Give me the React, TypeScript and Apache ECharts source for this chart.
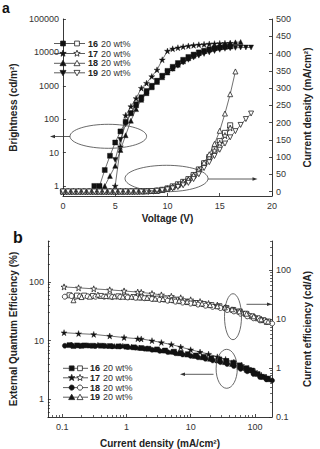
import React, { useEffect, useRef } from 'react';
import * as echarts from 'echarts';

const lg = (v: number) => Math.log10(v);

// ---------- panel a: brightness (cd/m²) vs voltage (V), filled markers ----------
const voltB16 = [3, 3.5, 4, 4.5, 5, 5.5, 6, 6.5, 7, 7.5, 8, 8.5, 9, 9.5, 10, 10.5, 11, 11.5, 12, 12.5, 13, 13.5, 14, 14.5, 15, 15.5, 16];
const bright16 = [1, 1, 3, 8, 20, 43, 83, 150, 260, 420, 650, 950, 1400, 2000, 2800, 3700, 4800, 6000, 7300, 8600, 10000, 11200, 12300, 13300, 14000, 14600, 15000];
const voltB17 = [5, 5.5, 6, 6.5, 7, 7.5, 8, 8.5, 9, 9.5, 10, 10.5, 11, 11.5, 12, 12.5, 13, 13.5, 14, 14.5, 15, 15.5, 16];
const bright17 = [1, 15, 130, 240, 420, 850, 1200, 1900, 3000, 6000, 11000, 12800, 13800, 14800, 15600, 16300, 16900, 17400, 17900, 18300, 18600, 18800, 19000];
const voltB18 = [4, 4.5, 5, 5.5, 6, 6.5, 7, 7.5, 8, 8.5, 9, 9.5, 10, 10.5, 11, 11.5, 12, 12.5, 13, 13.5, 14, 14.5, 15, 15.5, 16, 16.5, 17];
const bright18 = [1, 2, 4, 12, 33, 90, 200, 380, 600, 900, 1300, 1800, 2500, 3300, 4300, 5400, 6700, 8000, 9500, 11000, 12500, 14000, 15500, 17000, 18500, 20000, 20500];
const voltB19 = [5, 5.5, 6, 6.5, 7, 7.5, 8, 8.5, 9, 9.5, 10, 10.5, 11, 11.5, 12, 12.5, 13, 13.5, 14, 14.5, 15, 15.5, 16, 16.5, 17, 17.5, 18];
const bright19 = [6, 24, 70, 150, 280, 450, 700, 1000, 1400, 1900, 2500, 3200, 4000, 5000, 6000, 7000, 8000, 9000, 10000, 11000, 12000, 12800, 13300, 13700, 14000, 14000, 14000];

// ---------- panel a: current density (mA/cm²) vs voltage (V), open markers ----------
const voltJ16 = [0, 0.5, 1, 1.5, 2, 2.5, 3, 3.5, 4, 4.5, 5, 5.5, 6, 6.5, 7, 7.5, 8, 8.5, 9, 9.5, 10, 10.5, 11, 11.5, 12, 12.5, 13, 13.5, 14, 14.5, 15, 15.5, 16];
const cur16 = [0, 0, 0, 0, 0, 0, 0, 0, 0, 0, 0, 0.1, 0.1, 0.2, 0.3, 0.5, 0.9, 1.5, 2.5, 5, 9, 15, 21, 28, 36, 48, 64, 82, 100, 122, 146, 170, 192];
const voltJ17 = [0, 0.5, 1, 1.5, 2, 2.5, 3, 3.5, 4, 4.5, 5, 5.5, 6, 6.5, 7, 7.5, 8, 8.5, 9, 9.5, 10, 10.5, 11, 11.5, 12, 12.5, 13, 13.5, 14, 14.5, 15, 15.5, 16];
const cur17 = [0, 0, 0, 0, 0, 0, 0, 0, 0, 0, 0, 0.1, 0.1, 0.2, 0.3, 0.5, 0.8, 1.4, 2.4, 4.5, 8, 13, 19, 26, 34, 46, 62, 80, 98, 118, 140, 162, 184];
const voltJ18 = [0, 0.5, 1, 1.5, 2, 2.5, 3, 3.5, 4, 4.5, 5, 5.5, 6, 6.5, 7, 7.5, 8, 8.5, 9, 9.5, 10, 10.5, 11, 11.5, 12, 12.5, 13, 13.5, 14, 14.5, 15, 15.5, 16, 16.5];
const cur18 = [0, 0, 0, 0, 0, 0, 0, 0, 0, 0, 0, 0.1, 0.1, 0.2, 0.3, 0.5, 0.9, 1.5, 2.6, 5, 9, 14, 20, 27, 35, 47, 64, 84, 108, 138, 176, 226, 282, 348];
const voltJ19 = [0, 0.5, 1, 1.5, 2, 2.5, 3, 3.5, 4, 4.5, 5, 5.5, 6, 6.5, 7, 7.5, 8, 8.5, 9, 9.5, 10, 10.5, 11, 11.5, 12, 12.5, 13, 13.5, 14, 14.5, 15, 15.5, 16, 16.5, 17, 17.5, 18];
const cur19 = [0, 0, 0, 0, 0, 0, 0, 0, 0, 0, 0, 0.1, 0.1, 0.2, 0.3, 0.4, 0.7, 1.2, 2, 3.5, 6, 9, 13, 18, 25, 36, 50, 68, 85, 103, 121, 139, 157, 175, 193, 210, 226];

// ---------- panel b: EQE (%) and current efficiency (cd/A) vs current density ----------
const jEff16 = [0.13, 0.17, 0.22, 0.3, 0.4, 0.55, 0.75, 1.0, 1.3, 1.7, 2.2, 3, 4, 5.5, 7, 9, 12, 16, 21, 28, 36, 46, 58, 72, 90, 110, 135, 160];
const eqe16 = [8.4, 8.3, 8.3, 8.2, 8.2, 8.1, 8.0, 7.9, 7.7, 7.5, 7.3, 7.1, 6.8, 6.5, 6.2, 5.9, 5.6, 5.3, 5.0, 4.8, 4.5, 4.2, 3.8, 3.4, 3.1, 2.7, 2.4, 2.25];
const ce16 = [31, 30.5, 30.5, 30, 30, 29.5, 29.5, 29, 28.5, 28, 27.5, 26.5, 25.5, 24.5, 23.5, 22.5, 21.5, 20.5, 19.5, 18.5, 17, 15.5, 14.5, 13, 11.5, 10.5, 9.6, 9];
const jEff17 = [0.107, 0.18, 0.31, 0.55, 0.92, 1.5, 1.7, 2.5, 3.5, 5, 7, 10, 14, 19, 26, 35, 47, 62, 80, 100, 125, 150];
const eqe17 = [13.7, 13.2, 12.8, 12.0, 11.3, 10.8, 10.7, 10.0, 9.3, 8.6, 7.8, 7.0, 6.4, 5.9, 5.3, 4.8, 4.3, 3.8, 3.4, 3.0, 2.6, 2.4];
const ce17 = [46, 44, 42, 40, 38, 36, 35.5, 33.5, 31.5, 29.5, 27.5, 25, 23, 21, 19.5, 17.5, 15.5, 14, 12.5, 11, 10, 9];
const jEff18 = [0.11, 0.14, 0.19, 0.25, 0.33, 0.45, 0.6, 0.8, 1.05, 1.4, 1.9, 2.5, 3.3, 4.4, 5.8, 7.5, 10, 13, 17, 22, 29, 37, 47, 60, 76, 95, 120, 150, 185];
const eqe18 = [8.2, 8.4, 8.2, 8.3, 8.1, 8.2, 8.0, 8.0, 7.8, 7.6, 7.3, 7.0, 6.7, 6.4, 6.1, 5.8, 5.5, 5.2, 4.9, 4.6, 4.3, 4.0, 3.7, 3.3, 3.0, 2.7, 2.4, 2.2, 2.1];
const ce18 = [29, 30, 29.5, 29.5, 29, 29, 28.5, 28.5, 28, 27.5, 27, 26, 25, 24, 23, 22, 21, 20, 19, 18, 17, 15.5, 14.5, 13, 11.5, 10.5, 9.5, 8.8, 8.2];
const jEff19 = [0.15, 0.2, 0.27, 0.36, 0.48, 0.65, 0.88, 1.2, 1.6, 2.1, 2.8, 3.7, 5, 6.6, 8.8, 11.5, 15, 20, 26, 34, 44, 57, 74, 96, 125, 160];
const eqe19 = [8.1, 8.2, 8.3, 8.5, 8.2, 8.1, 8.2, 7.9, 7.6, 7.4, 7.1, 6.8, 6.5, 6.1, 5.8, 5.5, 5.2, 4.9, 4.6, 4.3, 4.0, 3.6, 3.2, 2.9, 2.5, 2.2];
const ce19 = [24.5, 28.5, 29, 32, 30, 29.5, 29, 29, 28, 27.5, 26.5, 26, 25, 24, 23, 22, 21, 19.5, 18.5, 17.5, 16, 14.5, 13, 11.5, 10, 9];

// ---------- axis ticks ----------
const voltTicks = [0, 5, 10, 15, 20];
const brightTicks = [1, 10, 100, 1000, 10000, 100000];
const curTicks = [0, 50, 100, 150, 200, 250, 300, 350, 400, 450, 500];
const jTicks = [0.1, 1, 10, 100];
const eqeTicks = [1, 10, 100];
const ceTicks = [0.1, 1, 10, 100];

const deviceNames = ['16', '17', '18', '19'];
const dopingText = '20 wt%';

const FONT = "'Liberation Sans', Arial, Helvetica, sans-serif";
const INK = '#222';
const STAR = 'path://M50,0 L61.8,35.3 L99,35.3 L69,57.3 L80.3,92.7 L50,70.7 L19.7,92.7 L31,57.3 L1,35.3 L38.2,35.3 Z';

const pairs = (xs: number[], ys: number[], fx = (v: number) => v, fy = (v: number) => v) =>
  xs.map((x, i) => [fx(x), fy(ys[i])]);

function minorLogTicks(lo: number, hi: number) {
  const out: number[] = [];
  for (let d = -3; d <= 6; d++) {
    for (let k = 2; k <= 9; k++) {
      const v = k * Math.pow(10, d);
      if (v > lo && v < hi) out.push(lg(v));
    }
  }
  return out;
}

function labelFrom(ticks: number[]) {
  return (v: number) => {
    const t = ticks.find((x) => Math.abs(lg(x) - v) < 1e-6);
    return t != null ? String(t) : '';
  };
}

function series(data: number[][], xi: number, yi: number, symbol: string, filled: boolean, rotate = 0, size = 5) {
  return {
    type: 'line',
    xAxisIndex: xi,
    yAxisIndex: yi,
    data,
    symbol,
    symbolSize: size,
    symbolRotate: rotate,
    showSymbol: true,
    showAllSymbol: true,
    silent: true,
    lineStyle: { color: '#333', width: 0.7 },
    itemStyle: filled
      ? { color: '#111', borderColor: '#111', borderWidth: 0.4 }
      : { color: '#fff', borderColor: '#222', borderWidth: 0.8 },
    z: filled ? 3 : 4,
  };
}

const tickStyle = { inside: true, length: 3, lineStyle: { color: INK, width: 0.8 } };
const minorTickStyle = { inside: true, length: 2, lineStyle: { color: INK, width: 0.7 } };
const lineStyle = { show: true, onZero: false, lineStyle: { color: INK, width: 0.9 } };
const labelStyle = { color: '#333', fontSize: 9, fontFamily: FONT };
const nameStyle = { color: INK, fontSize: 10, fontWeight: 'bold', fontFamily: FONT };

// Legend glyph: marker shapes drawn as graphic elements
function glyph(kind: string, cx: number, cy: number, filled: boolean) {
  const style = { fill: filled ? '#111' : '#fff', stroke: INK, lineWidth: 0.8 };
  if (kind === 'rect') return { type: 'rect', shape: { x: cx - 2.4, y: cy - 2.4, width: 4.8, height: 4.8 }, style, z: 10 };
  if (kind === 'circle') return { type: 'circle', shape: { cx, cy, r: 2.6 }, style, z: 10 };
  if (kind === 'up') return { type: 'polygon', shape: { points: [[cx, cy - 3], [cx + 3, cy + 2.4], [cx - 3, cy + 2.4]] }, style, z: 10 };
  if (kind === 'down') return { type: 'polygon', shape: { points: [[cx, cy + 3], [cx + 3, cy - 2.4], [cx - 3, cy - 2.4]] }, style, z: 10 };
  const pts: number[][] = [];
  for (let i = 0; i < 10; i++) {
    const r = i % 2 === 0 ? 3.4 : 1.4;
    const a = -Math.PI / 2 + (i * Math.PI) / 5;
    pts.push([cx + r * Math.cos(a), cy + r * Math.sin(a)]);
  }
  return { type: 'polygon', shape: { points: pts }, style, z: 10 };
}

function legendRows(x0: number, x1: number, mFill: number, mOpen: number, textX: number, ys: number[], kinds: string[]) {
  const els: any[] = [];
  ys.forEach((y, i) => {
    els.push({ type: 'line', shape: { x1: x0, y1: y, x2: x1, y2: y }, style: { stroke: '#333', lineWidth: 0.8 }, z: 9 });
    els.push(glyph(kinds[i], mFill, y, true));
    els.push(glyph(kinds[i], mOpen, y, false));
    els.push({ type: 'text', x: textX, y, style: { text: deviceNames[i], fill: INK, font: `bold 9px ${FONT}`, verticalAlign: 'middle' }, z: 10 });
    els.push({ type: 'text', x: textX + 13, y, style: { text: dopingText, fill: '#333', font: `9px ${FONT}`, verticalAlign: 'middle' }, z: 10 });
  });
  return els;
}

function arrow(x1: number, x2: number, y: number) {
  const dir = x2 > x1 ? 1 : -1;
  return [
    { type: 'line', shape: { x1, y1: y, x2: x2 - dir * 3, y2: y }, style: { stroke: '#333', lineWidth: 0.8 }, z: 9 },
    { type: 'polygon', shape: { points: [[x2, y], [x2 - dir * 5, y - 1.8], [x2 - dir * 5, y + 1.8]] }, style: { fill: '#333' }, z: 9 },
  ];
}

function ring(cx: number, cy: number, rx: number, ry: number) {
  return { type: 'ellipse', shape: { cx, cy, rx, ry }, style: { fill: 'none', stroke: '#444', lineWidth: 0.8 }, z: 9 };
}

export default function App() {
  const ref = useRef<HTMLDivElement>(null);

  useEffect(() => {
    if (!ref.current) return;
    const chart = echarts.init(ref.current, undefined, { renderer: 'svg' });

    const jMin = 0.06, jMax = 185;
    const eMin = 0.5, eMax = 500;
    const cMin = 0.1, cMax = 400;

    const option: any = {
      animation: false,
      backgroundColor: '#fff',
      textStyle: { fontFamily: FONT },
      grid: [
        { left: 43, top: 19, width: 239, height: 177 },
        { left: 43, top: 241, width: 236, height: 177 },
      ],
      xAxis: [
        {
          gridIndex: 0, type: 'value', min: 0, max: 20, interval: 5,
          axisLine: lineStyle, axisTick: tickStyle, splitLine: { show: false },
          axisLabel: { ...labelStyle, margin: 5, customValues: voltTicks },
          name: 'Voltage (V)', nameLocation: 'middle', nameGap: 17, nameTextStyle: nameStyle,
        },
        {
          gridIndex: 1, type: 'value', min: lg(jMin), max: lg(jMax),
          axisLine: lineStyle, splitLine: { show: false },
          axisTick: { ...tickStyle, customValues: jTicks.map(lg) },
          axisLabel: { ...labelStyle, margin: 5, customValues: jTicks.map(lg), formatter: labelFrom(jTicks) },
          name: 'Current density (mA/cm²)', nameLocation: 'middle', nameGap: 21, nameTextStyle: nameStyle,
        },
        {
          gridIndex: 1, type: 'value', min: lg(jMin), max: lg(jMax), position: 'bottom',
          axisLine: { show: false, onZero: false }, splitLine: { show: false },
          axisTick: { ...minorTickStyle, customValues: minorLogTicks(jMin, jMax) },
          axisLabel: { show: false },
        },
      ],
      yAxis: [
        {
          gridIndex: 0, type: 'value', position: 'left', min: lg(0.5), max: lg(100000),
          axisLine: lineStyle, splitLine: { show: false },
          axisTick: { ...tickStyle, customValues: brightTicks.map(lg) },
          axisLabel: { ...labelStyle, margin: 4, customValues: brightTicks.map(lg), formatter: labelFrom(brightTicks) },
          name: 'Brightness (cd/m²)', nameLocation: 'middle', nameGap: 35, nameTextStyle: nameStyle,
        },
        {
          gridIndex: 0, type: 'value', position: 'right', min: -13, max: 500,
          axisLine: lineStyle, splitLine: { show: false },
          axisTick: { ...tickStyle, customValues: curTicks },
          axisLabel: { ...labelStyle, margin: 4, customValues: curTicks },
          name: 'Current density (mA/cm²)', nameLocation: 'middle', nameGap: 30, nameTextStyle: nameStyle,
        },
        {
          gridIndex: 1, type: 'value', position: 'left', min: lg(eMin), max: lg(eMax),
          axisLine: lineStyle, splitLine: { show: false },
          axisTick: { ...tickStyle, customValues: eqeTicks.map(lg) },
          axisLabel: { ...labelStyle, margin: 4, customValues: eqeTicks.map(lg), formatter: labelFrom(eqeTicks) },
          name: 'External Quantum Efficiency (%)', nameLocation: 'middle', nameGap: 26, nameTextStyle: nameStyle,
        },
        {
          gridIndex: 1, type: 'value', position: 'right', min: lg(cMin), max: lg(cMax),
          axisLine: lineStyle, splitLine: { show: false },
          axisTick: { ...tickStyle, customValues: ceTicks.map(lg) },
          axisLabel: { ...labelStyle, margin: 4, customValues: ceTicks.map(lg), formatter: labelFrom(ceTicks) },
          name: 'Current efficiency (cd/A)', nameLocation: 'middle', nameGap: 28, nameTextStyle: nameStyle,
        },
        {
          gridIndex: 1, type: 'value', position: 'left', min: lg(eMin), max: lg(eMax),
          axisLine: { show: false, onZero: false }, splitLine: { show: false },
          axisTick: { ...minorTickStyle, customValues: minorLogTicks(eMin * 0.99, eMax * 1.01) },
          axisLabel: { show: false },
        },
        {
          gridIndex: 1, type: 'value', position: 'right', min: lg(cMin), max: lg(cMax),
          axisLine: { show: false, onZero: false }, splitLine: { show: false },
          axisTick: { ...minorTickStyle, customValues: minorLogTicks(cMin, cMax * 1.01) },
          axisLabel: { show: false },
        },
      ],
      series: [
        // panel a, current density (open)
        series(pairs(voltJ16, cur16), 0, 1, 'rect', false),
        series(pairs(voltJ17, cur17), 0, 1, STAR, false, 0, 6),
        series(pairs(voltJ18, cur18), 0, 1, 'triangle', false),
        series(pairs(voltJ19, cur19), 0, 1, 'triangle', false, 180),
        // panel a, brightness (filled)
        series(pairs(voltB16, bright16, undefined, lg), 0, 0, 'rect', true),
        series(pairs(voltB17, bright17, undefined, lg), 0, 0, STAR, true, 0, 6),
        series(pairs(voltB18, bright18, undefined, lg), 0, 0, 'triangle', true),
        series(pairs(voltB19, bright19, undefined, lg), 0, 0, 'triangle', true, 180),
        // panel b, current efficiency (open)
        series(pairs(jEff16, ce16, lg, lg), 1, 3, 'rect', false),
        series(pairs(jEff17, ce17, lg, lg), 1, 3, STAR, false, 0, 6),
        series(pairs(jEff18, ce18, lg, lg), 1, 3, 'circle', false),
        series(pairs(jEff19, ce19, lg, lg), 1, 3, 'triangle', false),
        // panel b, EQE (filled)
        series(pairs(jEff16, eqe16, lg, lg), 1, 2, 'rect', true),
        series(pairs(jEff17, eqe17, lg, lg), 1, 2, STAR, true, 0, 6),
        series(pairs(jEff18, eqe18, lg, lg), 1, 2, 'circle', true),
        series(pairs(jEff19, eqe19, lg, lg), 1, 2, 'triangle', true),
      ],
      graphic: [
        { type: 'text', x: 2, y: 1, style: { text: 'a', fill: '#111', font: `bold 14px ${FONT}` } },
        { type: 'text', x: 13, y: 229, style: { text: 'b', fill: '#111', font: `bold 16px ${FONT}` } },
        ...legendRows(54, 85, 63, 77, 88, [43.5, 53.5, 63.3, 72.8], ['rect', 'star', 'up', 'down']),
        ...legendRows(63, 88, 71.7, 80, 90, [368.3, 377.8, 387.6, 397.2], ['rect', 'star', 'circle', 'up']),
        ring(108.3, 136.3, 38.3, 12),
        ...arrow(70, 50, 136.5),
        ring(166.5, 178.5, 41.5, 13.2),
        ...arrow(208, 257.5, 179),
        ring(233, 316.7, 8.5, 23),
        ...arrow(246.5, 272, 304.3),
        ring(226.7, 368.8, 10.6, 19.5),
        ...arrow(213.5, 180, 374.3),
      ],
    };

    chart.setOption(option);
    return () => chart.dispose();
  }, []);

  return (
    <div
      ref={ref}
      style={{ position: 'absolute', left: 0, top: 0, width: 320, height: 449, background: '#fff' }}
    />
  );
}
